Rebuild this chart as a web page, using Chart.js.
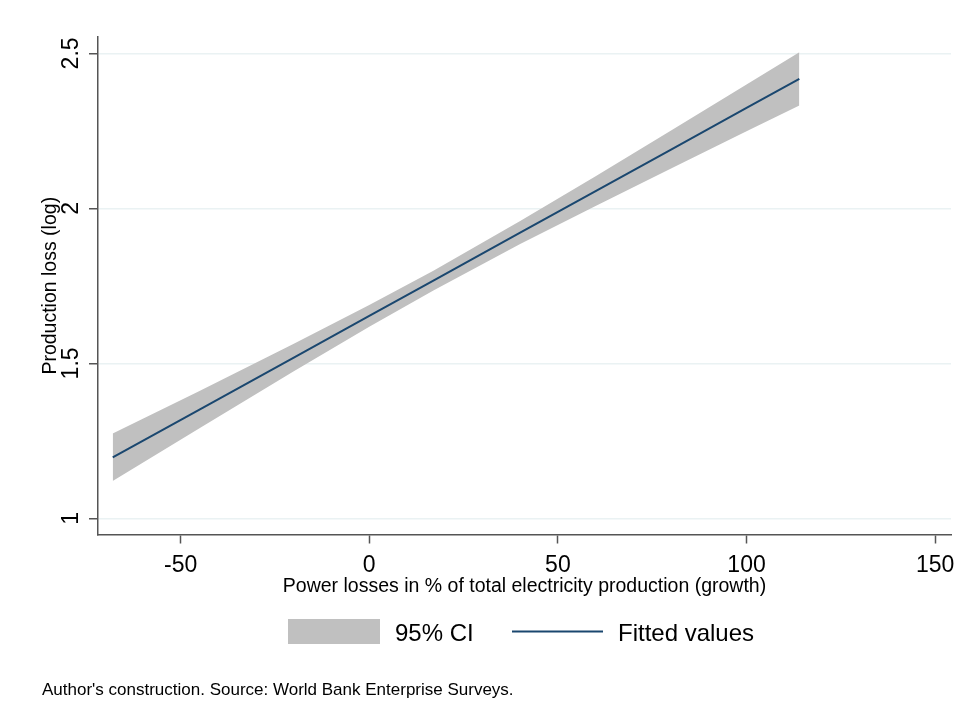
<!DOCTYPE html>
<html>
<head>
<meta charset="utf-8">
<script src="https://cdn.jsdelivr.net/npm/chart.js@4.4.1/dist/chart.umd.min.js"></script>
<style>
  html, body { margin: 0; padding: 0; background: #fff; }
</style>
</head>
<body>
<canvas id="chart" width="960" height="708"></canvas>
<script>
// values
var xValues = [-68, -45, -20, 0, 17, 40, 60, 80, 100, 114];
var fitted  = [1.197, 1.351, 1.519, 1.653, 1.767, 1.922, 2.056, 2.190, 2.324, 2.418];
var ciLower = [1.121, 1.291, 1.475, 1.618, 1.735, 1.885, 2.008, 2.129, 2.249, 2.332];
var ciUpper = [1.274, 1.411, 1.563, 1.688, 1.799, 1.959, 2.104, 2.251, 2.400, 2.504];
var xTicks = [-50, 0, 50, 100, 150];
var xTickLabels = ['-50', '0', '50', '100', '150'];
var yTicks = [1, 1.5, 2, 2.5];
var yTickLabels = ['1', '1.5', '2', '2.5'];
var legendLabels = ['95% CI', 'Fitted values'];
var caption = "Author's construction. Source: World Bank Enterprise Surveys.";

var FONT = '"Liberation Sans", Arial, sans-serif';
var NAVY = '#1a476f';
var BAND = '#c0c0c0';
var AXIS = '#555555';

function pts(ys) {
  return xValues.map(function(x, i) { return {x: x, y: ys[i]}; });
}

// y tick labels (rotated, centred on the tick), legend and source note
var extras = {
  id: 'extras',
  afterDraw: function(chart) {
    var ctx = chart.ctx;
    var yScale = chart.scales.y;
    ctx.save();
    ctx.fillStyle = '#000';
    ctx.font = '23px ' + FONT;
    ctx.textAlign = 'center';
    ctx.textBaseline = 'alphabetic';
    yScale.ticks.forEach(function(t, i) {
      var py = yScale.getPixelForValue(t.value);
      ctx.save();
      ctx.translate(78, py);
      ctx.rotate(-Math.PI / 2);
      ctx.fillText(yTickLabels[i], 0, 0);
      ctx.restore();
    });

    // legend
    var ds = chart.data.datasets;
    ctx.fillStyle = ds[2].backgroundColor;
    ctx.fillRect(288, 619, 92, 25);
    ctx.strokeStyle = ds[0].borderColor;
    ctx.lineWidth = 2;
    ctx.beginPath();
    ctx.moveTo(512, 631.5);
    ctx.lineTo(603, 631.5);
    ctx.stroke();
    ctx.fillStyle = '#000';
    ctx.textAlign = 'left';
    ctx.font = '24px ' + FONT;
    ctx.fillText(legendLabels[0], 395, 641);
    ctx.fillText(legendLabels[1], 618, 641);

    ctx.font = '17px ' + FONT;
    ctx.fillText(caption, 42, 695);
    ctx.restore();
  }
};

new Chart(document.getElementById('chart'), {
  type: 'line',
  data: {
    datasets: [
      {
        label: legendLabels[1],
        data: pts(fitted),
        borderColor: NAVY,
        borderWidth: 2,
        pointRadius: 0,
        fill: false
      },
      {
        label: 'lower',
        data: pts(ciLower),
        borderWidth: 0,
        borderColor: 'rgba(0,0,0,0)',
        pointRadius: 0,
        fill: false
      },
      {
        label: legendLabels[0],
        data: pts(ciUpper),
        borderWidth: 0,
        borderColor: 'rgba(0,0,0,0)',
        backgroundColor: BAND,
        pointRadius: 0,
        fill: '-1'
      }
    ]
  },
  options: {
    responsive: false,
    animation: false,
    events: [],
    layout: { padding: { left: 0, right: 9, top: 37, bottom: 109.7 } },
    plugins: {
      legend: { display: false },
      tooltip: { enabled: false }
    },
    scales: {
      x: {
        type: 'linear',
        min: -71.9,
        max: 154.2,
        afterBuildTicks: function(scale) {
          scale.ticks = xTicks.map(function(v) { return {value: v}; });
        },
        afterFit: function(scale) {
          scale.paddingLeft = 0;
          scale.paddingRight = 0;
        },
        ticks: {
          padding: 12.5,
          color: '#000',
          font: { family: FONT, size: 23, lineHeight: 0.8 },
          maxRotation: 0,
          callback: function(value, index) { return xTickLabels[index]; }
        },
        grid: {
          display: true,
          drawOnChartArea: false,
          drawTicks: true,
          tickLength: 9,
          tickColor: AXIS,
          tickWidth: 1.5
        },
        border: { display: true, color: AXIS, width: 1.5 },
        title: {
          display: true,
          text: 'Power losses in % of total electricity production (growth)',
          color: '#000',
          font: { family: FONT, size: 19.5 },
          padding: { top: -12, bottom: 0 }
        }
      },
      y: {
        type: 'linear',
        min: 0.948,
        max: 2.553,
        afterBuildTicks: function(scale) {
          scale.ticks = yTicks.map(function(v) { return {value: v}; });
        },
        ticks: { display: false },
        grid: {
          color: '#eaf2f3',
          lineWidth: 1.5,
          drawTicks: true,
          tickLength: 9,
          tickColor: AXIS,
          tickWidth: 1.5
        },
        border: { display: true, color: AXIS, width: 1.5 },
        title: {
          display: true,
          text: 'Production loss (log)',
          color: '#000',
          font: { family: FONT, size: 19.5 },
          padding: { top: 39.3, bottom: 26.3 }
        }
      }
    }
  },
  plugins: [extras]
});
</script>
</body>
</html>
